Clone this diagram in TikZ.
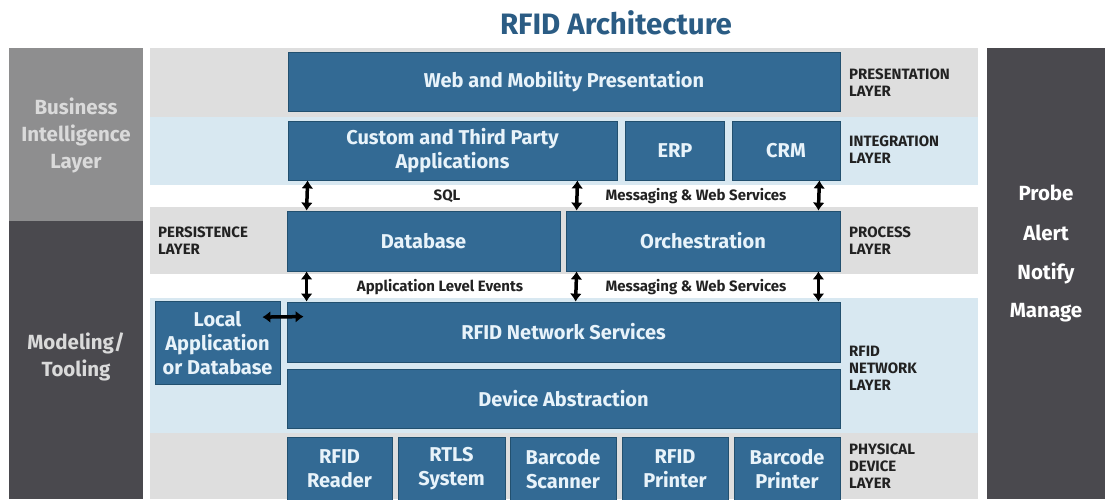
\documentclass[tikz,border=0pt]{standalone}
\usepackage{fontspec}
\setmainfont{Fira Sans}
\usetikzlibrary{arrows.meta}
\definecolor{boxblue}{HTML}{336A94}
\definecolor{boxedge}{HTML}{22506F}
\definecolor{boxtext}{HTML}{E8F3FA}
\definecolor{bandgray}{HTML}{DEDEDE}
\definecolor{bandblue}{HTML}{D8E8F1}
\definecolor{bigray}{HTML}{8E8E8F}
\definecolor{bitext}{HTML}{DADADA}
\definecolor{darkside}{HTML}{4A494E}
\definecolor{titleblue}{HTML}{2B5C84}
\definecolor{labeltext}{HTML}{222222}
\tikzset{
  bluebox/.style={draw=boxedge, line width=0.8pt, fill=boxblue, text=boxtext,
    font=\fontsize{20}{24}\selectfont\bfseries, align=center, inner sep=0pt},
  layerlabel/.style={text=labeltext, font=\fontsize{15}{17}\selectfont\bfseries,
    align=left, anchor=west, inner sep=0pt},
  flowlabel/.style={text=labeltext, font=\fontsize{15}{17}\selectfont\bfseries, inner sep=0pt},
  sidetext/.style={font=\fontsize{20.5}{27}\selectfont\bfseries, align=center, inner sep=0pt},
  dblarrow/.style={{Latex[length=8pt,width=12pt]}-{Latex[length=8pt,width=12pt]}, line width=3.5pt, black},
}
\begin{document}
\begin{tikzpicture}[x=1pt,y=-1pt]
\useasboundingbox (0,0) rectangle (1115,499);
% background bands
\fill[bandgray] (150,48) rectangle (978,117);
\fill[bandblue] (150,117) rectangle (978,185);
\fill[bandgray] (150,207) rectangle (978,274);
\fill[bandblue] (150,298) rectangle (978,433);
\fill[bandgray] (150,433) rectangle (978,499);
% side columns
\fill[bigray] (9,48) rectangle (143,221);
\fill[darkside] (9,221) rectangle (143,499);
\fill[darkside] (987,48) rectangle (1105,499);
% title
\node[text=titleblue, font=\fontsize{29.5}{34}\selectfont\bfseries] (title) at (616,23) {RFID Architecture};
% side texts
\node[sidetext, text=bitext] (bi) at (76,135) {Business\\Intelligence\\Layer};
\node[sidetext, text=bitext] (model) at (76,357) {Modeling/\\Tooling};
\node[sidetext, text=white] (probe) at (1046,193) {Probe};
\node[sidetext, text=white] (alert) at (1046,233) {Alert};
\node[sidetext, text=white] (notify) at (1046,273) {Notify};
\node[sidetext, text=white] (manage) at (1046,313) {Manage};
% blue boxes
\node[bluebox, minimum width=552pt, minimum height=59pt] (web) at (564,82) {Web and Mobility Presentation};
\node[bluebox, minimum width=329pt, minimum height=59pt] (custom) at (452.5,150.5) {Custom and Third Party\\Applications};
\node[bluebox, minimum width=99pt, minimum height=59pt] (erp) at (675,150.5) {ERP};
\node[bluebox, minimum width=108pt, minimum height=59pt] (crm) at (786,150.5) {CRM};
\node[bluebox, minimum width=273pt, minimum height=60pt] (db) at (423.5,241) {Database};
\node[bluebox, minimum width=274pt, minimum height=60pt] (orch) at (703,241) {Orchestration};
\node[bluebox, minimum width=125pt, minimum height=83pt] (local) at (217.5,343) {Local\\Application\\or Database};
\node[bluebox, minimum width=553pt, minimum height=60pt] (rns) at (563.5,332) {RFID Network Services};
\node[bluebox, minimum width=553pt, minimum height=59pt] (dev) at (563.5,398.5) {Device Abstraction};
\node[bluebox, minimum width=105pt, minimum height=63pt] (reader) at (339.5,469) {RFID\\Reader};
\node[bluebox, minimum width=107pt, minimum height=63pt] (rtls) at (451.5,469) {RTLS\\System};
\node[bluebox, minimum width=106pt, minimum height=63pt] (scanner) at (563,469) {Barcode\\Scanner};
\node[bluebox, minimum width=106pt, minimum height=63pt] (rprinter) at (675,469) {RFID\\Printer};
\node[bluebox, minimum width=106pt, minimum height=63pt] (bprinter) at (787,469) {Barcode\\Printer};
% layer labels
\node[layerlabel] (lpres) at (849,83) {PRESENTATION\\LAYER};
\node[layerlabel] (lint) at (849,150) {INTEGRATION\\LAYER};
\node[layerlabel] (lproc) at (849,241) {PROCESS\\LAYER};
\node[layerlabel] (lpers) at (158,241) {PERSISTENCE\\LAYER};
\node[layerlabel] (lrfid) at (849,368) {RFID\\NETWORK\\LAYER};
\node[layerlabel] (lphys) at (849,466) {PHYSICAL\\DEVICE\\LAYER};
% flow labels
\node[flowlabel] (sql) at (447,196) {SQL};
\node[flowlabel] (msg1) at (696,196) {Messaging \& Web Services};
\node[flowlabel] (ale) at (440,287) {Application Level Events};
\node[flowlabel] (msg2) at (696,287) {Messaging \& Web Services};
% vertical arrows
\draw[dblarrow] ([xshift=20pt]custom.south west) -- ([xshift=20pt]db.north west);
\draw[dblarrow] ([xshift=-40pt]custom.south east) -- ([xshift=11pt]orch.north west);
\draw[dblarrow] ([xshift=-21pt]crm.south east) -- ([xshift=-22pt]orch.north east);
\draw[dblarrow] ([xshift=20pt]db.south west) -- ([xshift=20pt]rns.north west);
\draw[dblarrow] ([xshift=11pt]orch.south west) -- ([xshift=289pt]rns.north west);
\draw[dblarrow] ([xshift=-22pt]orch.south east) -- ([xshift=-22pt]rns.north east);
% horizontal arrow
\draw[dblarrow] ([xshift=-18pt,yshift=-16pt]local.north east) -- ([xshift=17pt,yshift=-15pt]rns.north west);
\end{tikzpicture}
\end{document}
